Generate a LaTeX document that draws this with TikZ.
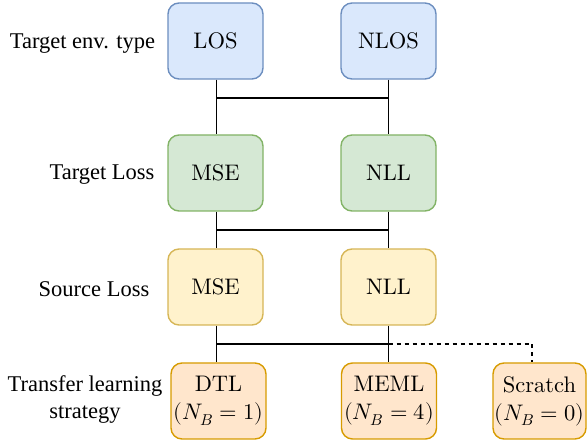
\documentclass[tikz,border=0pt]{standalone}
\usepackage{unicode-math}
\setmainfont{lmroman10-regular.otf}
\setmathfont{Latin Modern Math}
\newfontfamily\labfont{Liberation Serif}
\definecolor{bfill}{HTML}{DAE8FC}\definecolor{bdraw}{HTML}{6C8EBF}
\definecolor{gfill}{HTML}{D5E8D4}\definecolor{gdraw}{HTML}{82B366}
\definecolor{yfill}{HTML}{FFF2CC}\definecolor{ydraw}{HTML}{D6B656}
\definecolor{ofill}{HTML}{FFE6CC}\definecolor{odraw}{HTML}{D79B00}
\tikzset{
  box/.style={draw, rounded corners=11pt, line width=1.4pt, minimum width=95pt, minimum height=76pt, inner sep=0pt, align=center, font=\fontsize{22.5}{28}\selectfont},
  bluebox/.style={box, fill=bfill, draw=bdraw},
  greenbox/.style={box, fill=gfill, draw=gdraw},
  yellowbox/.style={box, fill=yfill, draw=ydraw},
  orangebox/.style={box, fill=ofill, draw=odraw},
  lab/.style={align=center, inner sep=0pt, font=\labfont\fontsize{22.5}{27}\selectfont},
  conn/.style={line width=1.8pt, black},
  dconn/.style={line width=1.8pt, black, dash pattern=on 4pt off 4pt}
}
\begin{document}
\begin{tikzpicture}[x=1pt,y=-1pt]
\useasboundingbox (0,0) rectangle (587,443);
% nodes
\node[bluebox] (LOS) at (215.5,41) {LOS};
\node[bluebox] (NLOS) at (388.5,41) {NLOS};
\node[greenbox] (MSEt) at (215.5,173) {MSE};
\node[greenbox] (NLLt) at (388.5,173) {NLL};
\node[yellowbox] (MSEs) at (215.5,287) {MSE};
\node[yellowbox] (NLLs) at (388.5,287) {NLL};
\node[orangebox] (DTL) at (218.5,401) {DTL\\$(N_B=1)$};
\node[orangebox] (MEML) at (389,401) {MEML\\$(N_B=4)$};
\node[orangebox, minimum width=93pt] (SCR) at (539.5,401) {Scratch\\$(N_B=0)$};
% labels
\node[lab] (l1) at (82.5,44) {Target env. type};
\node[lab] (l2) at (102,175) {Target Loss};
\node[lab] (l3) at (94,289) {Source Loss};
\node[lab] (l4) at (85,400) {Transfer learning\\strategy};
% connector junction heights
\coordinate (h1) at (0,98);
\coordinate (h2) at (0,230);
\coordinate (h3) at (0,344);
\coordinate (dx) at (532,0);
% connectors
\draw[conn] ([xshift=1pt]LOS.south) -- ([xshift=1pt]MSEt.north);
\draw[conn] (NLOS.south) -- (NLLt.north);
\draw[conn] ([xshift=1pt]LOS.south |- h1) -- (NLOS.south |- h1);
\draw[conn] ([xshift=1pt]MSEt.south) -- ([xshift=1pt]MSEs.north);
\draw[conn] (NLLt.south) -- (NLLs.north);
\draw[conn] ([xshift=1pt]MSEt.south |- h2) -- (NLLt.south |- h2);
\draw[conn] ([xshift=1pt]MSEs.south) -- ([xshift=1pt]MSEs.south |- DTL.north);
\draw[conn] (NLLs.south) -- (NLLs.south |- MEML.north);
\draw[conn] ([xshift=1pt]MSEs.south |- h3) -- (NLLs.south |- h3);
\draw[dconn] (NLLs.south |- h3) -| (dx |- SCR.north);
\end{tikzpicture}
\end{document}
